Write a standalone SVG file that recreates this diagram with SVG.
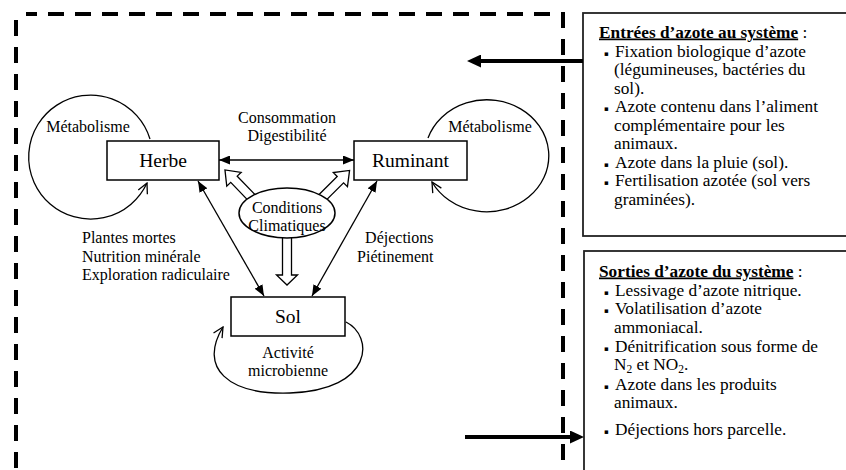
<svg xmlns="http://www.w3.org/2000/svg" width="846" height="470" viewBox="0 0 846 470">
<style>
text{font-family:"Liberation Serif","Times New Roman",serif;fill:#000}
.lbl{font-size:16px}
.node{font-size:19.5px;text-anchor:middle}
.mid{text-anchor:middle}
.box text{font-size:17.3px}
.ttl{font-weight:bold;text-decoration:underline}
.box text.bul{font-family:"DejaVu Sans",sans-serif;font-size:7px}
.conn{fill:none;stroke:#000;stroke-width:1.3}
.thick{fill:none;stroke:#000;stroke-width:4}
.nb{fill:#fff;stroke:#000;stroke-width:1.5}
.blk{fill:#fff;stroke:#000;stroke-width:1.3;stroke-linejoin:miter}
.dash{fill:none;stroke:#000;stroke-width:4;stroke-dasharray:16 11}
.side{fill:#fff;stroke:#222;stroke-width:1.8}
</style>
<defs>
<marker id="ah" viewBox="0 0 11 9" refX="11" refY="4.5" markerWidth="11" markerHeight="9" orient="auto-start-reverse" markerUnits="userSpaceOnUse"><path d="M0,0 L11,4.5 L0,9 z" fill="#000"/></marker>
<marker id="vh" viewBox="0 0 12 12" refX="11" refY="6" markerWidth="12" markerHeight="12" orient="auto" markerUnits="userSpaceOnUse"><path d="M1,1 L11,6 L1,11" fill="none" stroke="#000" stroke-width="1.3"/></marker>
<marker id="th" viewBox="0 0 14 13" refX="4" refY="6.5" markerWidth="14" markerHeight="13" orient="auto" markerUnits="userSpaceOnUse"><path d="M0,0 L14,6.5 L0,13 z" fill="#000"/></marker>
</defs>

<g id="frontiere">
<path class="dash" d="M26,14 H563 V470" stroke-dashoffset="5"/>
<path class="dash" d="M16,20 V470"/>
</g>

<g id="entrees" class="box">
<rect class="side" x="583" y="13" width="300" height="223"/>
<text x="599" y="37.5"><tspan class="ttl">Entrées d’azote au système</tspan> :</text>
<text class="bul" x="604" y="55.5">▪</text>
<text x="615" y="56.5">Fixation biologique d’azote</text>
<text x="614" y="75">(légumineuses, bactéries du</text>
<text x="614" y="93.5">sol).</text>
<text class="bul" x="604" y="111">▪</text>
<text x="615" y="112">Azote contenu dans l’aliment</text>
<text x="614" y="130.5">complémentaire pour  les</text>
<text x="614" y="149">animaux.</text>
<text class="bul" x="604" y="166.5">▪</text>
<text x="615" y="167.5">Azote dans la pluie (sol).</text>
<text class="bul" x="604" y="185">▪</text>
<text x="615" y="186">Fertilisation azotée (sol vers</text>
<text x="614" y="204.5">graminées).</text>
</g>

<g id="sorties" class="box">
<rect class="side" x="584" y="251" width="300" height="260"/>
<text x="599" y="276.5"><tspan class="ttl">Sorties d’azote du système</tspan> :</text>
<text class="bul" x="604" y="294.5">▪</text>
<text x="615" y="295.5">Lessivage d’azote nitrique.</text>
<text class="bul" x="604" y="313">▪</text>
<text x="615" y="314">Volatilisation d’azote</text>
<text x="614" y="332.5">ammoniacal.</text>
<text class="bul" x="604" y="350.5">▪</text>
<text x="615" y="351.5">Dénitrification sous forme de</text>
<text x="614" y="370">N<tspan font-size="11.5" dy="3">2</tspan><tspan dy="-3"> et NO</tspan><tspan font-size="11.5" dy="3">2</tspan><tspan dy="-3">.</tspan></text>
<text class="bul" x="604" y="388.5">▪</text>
<text x="615" y="389.5">Azote dans les produits</text>
<text x="614" y="408">animaux.</text>
<text class="bul" x="604" y="434">▪</text>
<text x="615" y="435">Déjections hors parcelle.</text>
</g>

<g id="connecteurs">
<path class="thick" d="M583,61 H477" marker-end="url(#th)"/>
<path class="thick" d="M465,437 H574" marker-end="url(#th)"/>
<path class="conn" d="M219,160 H354" marker-start="url(#ah)" marker-end="url(#ah)"/>
<path class="conn" d="M198,181 L264,296" marker-start="url(#ah)" marker-end="url(#ah)"/>
<path class="conn" d="M377,181 L312,296" marker-start="url(#ah)" marker-end="url(#ah)"/>
<path class="conn" d="M150,139 A62,62 0 1 0 147,183" marker-end="url(#vh)"/>
<path class="conn" d="M428,138 A62,56 0 1 1 432,182" marker-end="url(#vh)"/>
<path class="conn" d="M346,322 C374,336 374,390 290,393 C228,395 198,368 223,327" marker-end="url(#vh)"/>
<polygon class="blk" transform="translate(252,198) rotate(-133.9)" points="0,-4.5 26,-4.5 26,-10 39,0 26,10 26,4.5 0,4.5"/>
<polygon class="blk" transform="translate(322,198) rotate(-45)" points="0,-4.5 26,-4.5 26,-10 39,0 26,10 26,4.5 0,4.5"/>
<polygon class="blk" transform="translate(287,236) rotate(90)" points="0,-4.5 39,-4.5 39,-10.5 49,0 39,10.5 39,4.5 0,4.5"/>
</g>

<g id="herbe">
<rect class="nb" x="107" y="141" width="112" height="39"/>
<text class="node" x="163" y="167">Herbe</text>
<text class="lbl mid" x="88" y="132">Métabolisme</text>
</g>

<g id="ruminant">
<rect class="nb" x="354" y="141" width="113" height="39"/>
<text class="node" x="410.5" y="167">Ruminant</text>
<text class="lbl mid" x="490" y="132">Métabolisme</text>
</g>

<g id="conditions">
<ellipse class="nb" cx="287" cy="213" rx="48" ry="25" stroke-width="1.3"/>
<text class="lbl mid" x="287" y="213">Conditions</text>
<text class="lbl mid" x="287" y="230.5">Climatiques</text>
</g>

<g id="sol">
<rect class="nb" x="231" y="297" width="114" height="39"/>
<text class="node" x="288" y="323">Sol</text>
<text class="lbl mid" x="288" y="358">Activité</text>
<text class="lbl mid" x="288" y="376">microbienne</text>
</g>

<g id="etiquettes">
<text class="lbl mid" x="287" y="122.5">Consommation</text>
<text class="lbl mid" x="287" y="141">Digestibilité</text>
<text class="lbl" x="82" y="243">Plantes mortes</text>
<text class="lbl" x="82" y="261.5">Nutrition minérale</text>
<text class="lbl" x="82" y="280">Exploration radiculaire</text>
<text class="lbl" x="433.5" y="243" text-anchor="end">Déjections</text>
<text class="lbl" x="433.5" y="261.5" text-anchor="end">Piétinement</text>
</g>
</svg>
